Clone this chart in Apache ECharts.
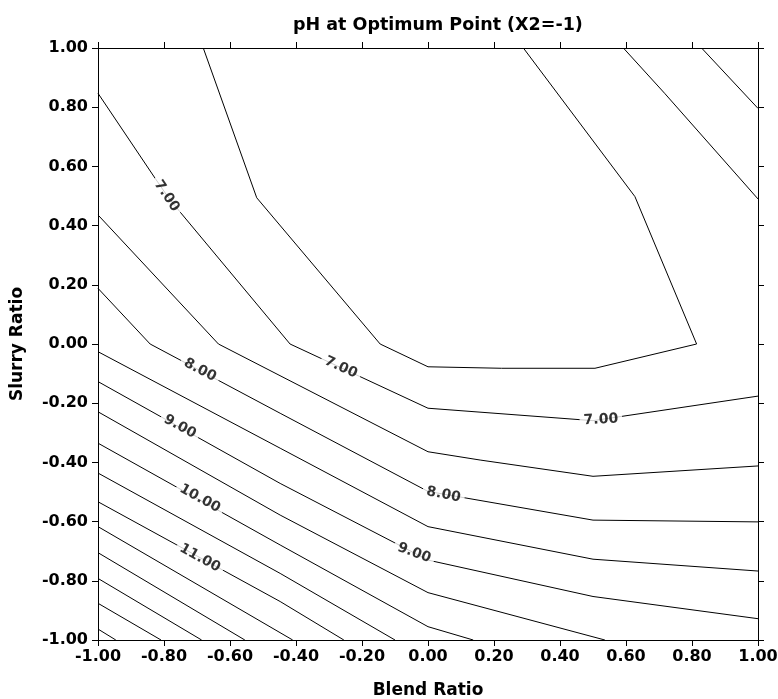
<!DOCTYPE html>
<html>
<head>
<meta charset="utf-8">
<script src="https://cdn.jsdelivr.net/npm/echarts@6/dist/echarts.min.js"></script>
<style>
html,body{margin:0;padding:0;background:#fff;}
#chart{width:778px;height:699px;}
</style>
</head>
<body>
<div id="chart"></div>
<script>
// ---- Data (Blend Ratio, Slurry Ratio) ----
const xTickValues = [-1, -0.8, -0.6, -0.4, -0.2, 0, 0.2, 0.4, 0.6, 0.8, 1];
const yTickValues = [-1, -0.8, -0.6, -0.4, -0.2, 0, 0.2, 0.4, 0.6, 0.8, 1];

const contour_6_5 = [[-0.681,1.0],[-0.519,0.494],[-0.145,0.0],[0.0,-0.077],[0.223,-0.082],[0.506,-0.082],[0.814,0.0],[0.627,0.498],[0.289,1.0]];
const contour_7_0 = [[-1,0.847],[-0.827,0.56],[-0.79,0.5],[-0.752,0.447],[-0.418,0.0],[0.0,-0.217],[0.5,-0.259],[1,-0.176]];
const contour_7_0_upper = [[0.592,1.0],[0.717,0.847],[1.0,0.49]];
const contour_7_5_upper = [[0.829,1.0],[1.0,0.796]];
const contour_7_5 = [[-1,0.436],[-0.635,0.0],[0.0,-0.364],[0.158,-0.392],[0.5,-0.447],[1,-0.412]];
const contour_8_0 = [[-1,0.188],[-0.842,0.0],[-0.448,-0.234],[0.0,-0.498],[0.5,-0.595],[1,-0.601]];
const contour_8_5 = [[-1,-0.026],[-0.448,-0.352],[0.0,-0.617],[0.5,-0.727],[1,-0.767]];
const contour_9_0 = [[-1,-0.127],[-0.448,-0.471],[0.0,-0.73],[0.5,-0.853],[1,-0.928]];
const contour_9_5 = [[-1,-0.229],[-0.448,-0.578],[0.0,-0.84],[0.536,-1.0]];
const contour_10_0 = [[-1,-0.335],[-0.448,-0.679],[0.0,-0.955],[0.137,-1.0]];
const contour_10_5 = [[-1,-0.436],[-0.448,-0.775],[-0.1,-1.0]];
const contour_11_0 = [[-1,-0.533],[-0.448,-0.870],[-0.255,-1.0]];
const contour_11_5 = [[-1,-0.617],[-0.41,-1.0]];
const contour_12_0 = [[-1,-0.705],[-0.555,-1.0]];
const contour_12_5 = [[-1,-0.792],[-0.686,-1.0]];
const contour_13_0 = [[-1,-0.876],[-0.809,-1.0]];
const contour_13_5 = [[-1,-0.963],[-0.946,-1.0]];

const labelTexts = ['7.00','8.00','7.00','9.00','10.00','11.00','8.00','9.00','7.00'];
const labelPoints = [[-0.792,0.5],[-0.691,-0.088],[-0.264,-0.079],[-0.752,-0.279],[-0.691,-0.522],[-0.691,-0.723],[0.047,-0.509],[-0.042,-0.706],[0.524,-0.256]];
// label rotation (style)
const labelAngles = [-56,-28,-25,-29,-29,-29,-11,-20,3];

const contours = [
  contour_6_5, contour_7_0, contour_7_0_upper, contour_7_5_upper, contour_7_5,
  contour_8_0, contour_8_5, contour_9_0, contour_9_5, contour_10_0, contour_10_5,
  contour_11_0, contour_11_5, contour_12_0, contour_12_5, contour_13_0, contour_13_5
];

const FONT = 'DejaVu Sans';
const fmt = v => (Math.abs(v) < 1e-9 ? 0 : v).toFixed(2);

const chart = echarts.init(document.getElementById('chart'), null, {renderer:'canvas'});

const axisCommon = {
  type: 'value', min: -1, max: 1, interval: 0.2,
  axisLine: {show: true, onZero: false, lineStyle: {color: '#000', width: 1}},
  axisTick: {show: true, inside: false, length: 6, lineStyle: {color: '#000', width: 1}},
  splitLine: {show: false},
  splitArea: {show: false}
};

const series = contours.map(c => ({
  type: 'line',
  data: c,
  showSymbol: false,
  symbol: 'none',
  smooth: false,
  clip: true,
  silent: true,
  lineStyle: {color: '#000', width: 1},
  z: 2
}));

series.push({
  type: 'scatter',
  silent: true,
  z: 10,
  symbol: 'circle',
  symbolSize: 0.1,
  itemStyle: {color: 'rgba(0,0,0,0)'},
  data: labelPoints.map((p, i) => ({
    value: p,
    name: labelTexts[i],
    label: {rotate: labelAngles[i]}
  })),
  label: {
    show: true,
    position: 'inside',
    formatter: p => p.name,
    color: '#000',
    fontFamily: FONT,
    fontWeight: 'bold',
    fontSize: 14,
    backgroundColor: '#fff',
    padding: [0, 4]
  }
});

chart.setOption({
  animation: false,
  backgroundColor: '#fff',
  title: {
    text: 'pH at Optimum Point (X2=-1)',
    left: 288,
    top: 11,
    textStyle: {color: '#000', fontFamily: FONT, fontWeight: 'bold', fontSize: 17.5}
  },
  grid: {left: 98, right: 20, top: 48, bottom: 59, containLabel: false, outerBoundsMode: 'none'},
  xAxis: [
    Object.assign({}, axisCommon, {
      position: 'bottom',
      name: 'Blend Ratio',
      nameLocation: 'middle',
      nameGap: 42,
      nameTextStyle: {color: '#000', fontFamily: FONT, fontWeight: 'bold', fontSize: 17},
      axisLabel: {
        show: true, margin: 9, color: '#000', fontFamily: FONT, fontWeight: 'bold', fontSize: 16,
        showMinLabel: true, showMaxLabel: true, formatter: fmt,
        customValues: xTickValues
      }
    }),
    Object.assign({}, axisCommon, {position: 'top', axisLabel: {show: false}})
  ],
  yAxis: [
    Object.assign({}, axisCommon, {
      position: 'left',
      name: 'Slurry Ratio',
      nameLocation: 'middle',
      nameGap: 72,
      nameTextStyle: {color: '#000', fontFamily: FONT, fontWeight: 'bold', fontSize: 17},
      axisLabel: {
        show: true, margin: 10, color: '#000', fontFamily: FONT, fontWeight: 'bold', fontSize: 16,
        showMinLabel: true, showMaxLabel: true, formatter: fmt,
        customValues: yTickValues
      }
    }),
    Object.assign({}, axisCommon, {position: 'right', axisLabel: {show: false}})
  ],
  series: series
});
</script>
</body>
</html>
